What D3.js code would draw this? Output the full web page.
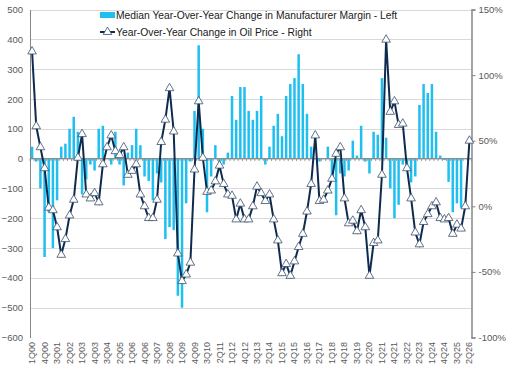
<!DOCTYPE html>
<html>
<head>
<meta charset="utf-8">
<title>Margin vs Oil</title>
<script src="https://d3js.org/d3.v7.min.js"></script>
<style>
body { margin: 0; background: #fff; }
text { font-family: Arial, "Liberation Sans", sans-serif; }
</style>
</head>
<body>
<div id="chart"></div>
<script>
// quarters 1Q00 .. 2Q26
var quarters = [];
for (var yr = 0; yr <= 26; yr++) {
  for (var q = 1; q <= 4; q++) {
    if (yr == 26 && q > 2) break;
    quarters.push(q + "Q" + (yr < 10 ? "0" + yr : yr));
  }
}

// median YoY change in manufacturer margin (left axis)
var marginChange = [
  40, -10, -100, -330, -180, -300, -140, 40, 50, 100,
  140, 90, -120, -70, -20, -40, 100, 110, 0, -20,
  90, -20, -90, 20, 45, 100, 45, -60, -75, -140,
  -50, -80, -270, -230, -240, -460, -500, -150, -10, 160,
  380, 100, -180, -60, 45, -20, -20, 20, 210, 130,
  240, 240, 160, 130, 160, 210, -20, 40, 110, 150,
  75, 210, 250, 270, 350, 250, 150, 40, 0, -10,
  0, 40, -75, -190, -50, -60, -40, 60, 10, 110,
  -10, -50, 90, 80, 270, 70, -100, -200, -155, -20,
  -30, -80, -60, 180, 250, 220, 250, 90, 10, -5,
  -78, -180, -150, -165, null, null
];

// YoY change in oil price, % (right axis)
var oilChange = [
  118, 61, 45, 29, -1, -3, -16, -37, -25, -7,
  5, 37, 55, 9, 6, 10, 3, 32, 45, 54,
  42, 39, 45, 24, 27, 32, 9, 0, -9, -9,
  5, 49, 66, 90, 57, -36, -57, -52, -43, 28,
  80, 37, 11, 12, 19, 31, 17, 9, 8, -10,
  2, -10, -10, 0, 15, 10, 4, 9, -10, -26,
  -51, -44, -53, -42, -31, -21, -4, 17, 54, 4,
  5, 12, 21, 40, 45, 6, -13, -11, -19, -3,
  -16, -53, -28, -26, 24, 127, 72, 80, 62, 63,
  29, 6, -20, -29, -12, -6, 0, 3, -9, -10,
  -9, -21, -14, -17, 0, 50
];

var leftTicks = [500, 400, 300, 200, 100, 0, -100, -200, -300, -400, -500, -600];
var rightTicks = [150, 100, 50, 0, -50, -100];
var seriesNames = ["Median Year-Over-Year Change in Manufacturer Margin - Left",
                   "Year-Over-Year Change in Oil Price - Right"];

var W = 511, H = 370;
var plotL = 30, plotR = 471.5, plotT = 9.5, plotB = 337.5;

var svg = d3.select("#chart").append("svg")
  .attr("width", W).attr("height", H);

var x = d3.scaleBand()
  .domain(d3.range(quarters.length))
  .range([plotL, plotR])
  .paddingInner(0.4).paddingOuter(0.2);

var yL = d3.scaleLinear().domain([-600, 500]).range([plotB, plotT]);
var yR = d3.scaleLinear().domain([-100, 150]).range([plotB, plotT]);

var cx = function(i) { return x(i) + x.bandwidth() / 2; };

// gridlines
svg.append("g")
  .selectAll("line")
  .data(leftTicks.filter(function(d) { return d > -600; }))
  .enter().append("line")
    .attr("x1", plotL).attr("x2", plotR)
    .attr("y1", function(d) { return Math.round(yL(d)) + 0.5; })
    .attr("y2", function(d) { return Math.round(yL(d)) + 0.5; })
    .attr("stroke", "#d9d9d9").attr("stroke-width", 1);

// left axis
var axL = svg.append("g")
  .attr("transform", "translate(" + plotL + ",0)")
  .call(d3.axisLeft(yL).tickValues(leftTicks).tickSize(0).tickPadding(7));
axL.select(".domain").attr("stroke", "#868686");
axL.selectAll("text").attr("fill", "#595959").style("font-size", "9.5px");

// right axis
var axR = svg.append("g")
  .attr("transform", "translate(" + plotR + ",0)")
  .call(d3.axisRight(yR).tickValues(rightTicks).tickSize(4).tickPadding(3)
    .tickFormat(function(d) { return d + "%"; }));
axR.select(".domain").attr("stroke", "#868686").attr("stroke-width", 1.5);
axR.selectAll(".tick line").attr("stroke", "#868686");
axR.selectAll("text").attr("fill", "#595959").style("font-size", "9.5px");

// bars
svg.append("g")
  .selectAll("rect")
  .data(marginChange.map(function(v, i) { return {i: i, v: v}; })
    .filter(function(d) { return d.v !== null; }))
  .enter().append("rect")
    .attr("x", function(d) { return x(d.i); })
    .attr("width", x.bandwidth())
    .attr("y", function(d) { return yL(Math.max(0, d.v)); })
    .attr("height", function(d) { return Math.abs(yL(d.v) - yL(0)); })
    .attr("fill", "#1fbff0");

// zero line with category ticks
var zeroY = yL(0);
svg.append("line")
  .attr("x1", plotL).attr("x2", plotR)
  .attr("y1", zeroY).attr("y2", zeroY)
  .attr("stroke", "#868686").attr("stroke-width", 1);
svg.append("g")
  .selectAll("line")
  .data(d3.range(quarters.length + 1))
  .enter().append("line")
    .attr("x1", function(i) { return plotL + i * (plotR - plotL) / quarters.length; })
    .attr("x2", function(i) { return plotL + i * (plotR - plotL) / quarters.length; })
    .attr("y1", zeroY).attr("y2", zeroY + 2.5)
    .attr("stroke", "#868686").attr("stroke-width", 0.8);

// x labels, every third quarter
svg.append("g")
  .selectAll("text")
  .data(quarters.map(function(q, i) { return {q: q, i: i}; })
    .filter(function(d) { return d.i % 3 == 0; }))
  .enter().append("text")
    .attr("transform", function(d) { return "translate(" + (cx(d.i) + 3) + ",342) rotate(-90)"; })
    .attr("text-anchor", "end")
    .attr("fill", "#595959")
    .style("font-size", "9px")
    .text(function(d) { return d.q; });

// oil line
var line = d3.line()
  .x(function(d, i) { return cx(i); })
  .y(function(d) { return yR(d); });

svg.append("path")
  .datum(oilChange)
  .attr("d", line)
  .attr("fill", "none")
  .attr("stroke", "#0e2a4e")
  .attr("stroke-width", 2);

var tri = d3.symbol().type(d3.symbolTriangle).size(32);
svg.append("g")
  .selectAll("path")
  .data(oilChange)
  .enter().append("path")
    .attr("d", tri)
    .attr("transform", function(d, i) { return "translate(" + cx(i) + "," + yR(d) + ")"; })
    .attr("fill", "#fff")
    .attr("stroke", "#3a4f6c")
    .attr("stroke-width", 0.8);

// legend
var lg = svg.append("g");
lg.append("rect").attr("x", 100).attr("y", 12).attr("width", 15).attr("height", 6).attr("fill", "#1fbff0");
lg.append("text").attr("x", 116).attr("y", 19).style("font-size", "10.3px").attr("fill", "#1a1a1a").text(seriesNames[0]);
lg.append("line").attr("x1", 100).attr("x2", 115).attr("y1", 32).attr("y2", 32)
  .attr("stroke", "#0e2a4e").attr("stroke-width", 2);
lg.append("path").attr("d", tri).attr("transform", "translate(107.5,32)")
  .attr("fill", "#fff").attr("stroke", "#3a4f6c").attr("stroke-width", 0.8);
lg.append("text").attr("x", 116).attr("y", 36).style("font-size", "10.3px").attr("fill", "#1a1a1a").text(seriesNames[1]);
</script>
</body>
</html>
